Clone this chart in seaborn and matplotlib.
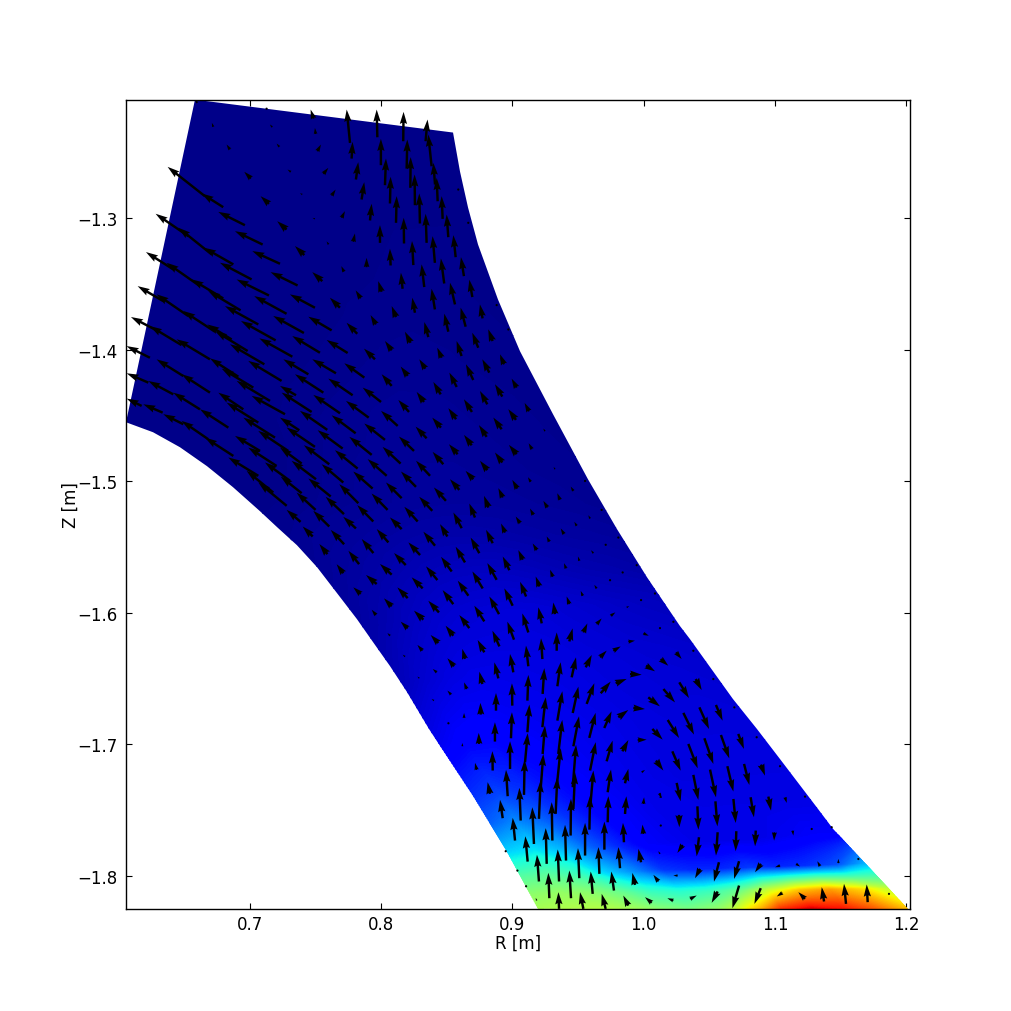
import numpy as np
import pandas as pd
import matplotlib
matplotlib.use("Agg")
import matplotlib.pyplot as plt
from matplotlib.patches import Polygon
import seaborn as sns

# Region outline, mm: one station per row of the colour table
left_R = [658.5,645.6,632.7,619.7,606.0,626.6,652.4,677.6,702.7,728.5,753.6,784.1,814.5,845.0,870.1,883.0,896.0,905.9,913.5,919.5]
left_Z = [-1210.1,-1270.8,-1331.5,-1392.2,-1455.2,-1462.8,-1477.2,-1496.2,-1515.9,-1541.7,-1569.1,-1610.0,-1654.1,-1701.1,-1739.1,-1760.3,-1781.6,-1799.8,-1813.5,-1824.9]
right_R = [855.6,860.2,870.1,886.1,905.9,921.1,936.3,951.5,966.7,982.0,997.2,1014.7,1037.5,1068.0,1103.7,1126.5,1149.4,1168.4,1187.4,1201.1]
right_Z = [-1235.1,-1264.7,-1308.7,-1359.6,-1401.3,-1433.9,-1464.3,-1490.9,-1517.5,-1540.2,-1566.8,-1589.6,-1627.6,-1670.8,-1716.3,-1742.9,-1767.9,-1790.7,-1809.7,-1824.9]

# Finer outline of the coloured region, mm
outline_R = [658.5,606.0,626.6,647.1,667.7,687.4,708.0,721.0,736.1,751.4,768.9,781.8,794.0,806.9,819.9,836.6,845.0,870.1,896.0,919.5,
             1201.1,1144.1,1132.7,1103.7,1086.2,1067.9,1035.2,1027.6,1002.5,979.7,957.6,931.0,905.9,889.1,873.9,866.3,860.2,854.9]
outline_Z = [-1210.1,-1455.2,-1462.8,-1474.2,-1488.6,-1504.5,-1522.8,-1534.9,-1548.6,-1565.3,-1588.0,-1604.8,-1622.2,-1640.4,-1660.2,-1688.2,-1701.1,-1739.1,-1781.6,-1824.9,
             -1824.9,-1764.1,-1749.0,-1711.0,-1688.2,-1665.4,-1619.9,-1610.0,-1572.9,-1536.4,-1498.5,-1449.1,-1401.3,-1361.9,-1320.1,-1292.0,-1264.7,-1235.1]

field = [
 [.008,.008,.008,.008,.008,.008,.008,.008,.008,.008,.008,.008,.008],
 [.008,.008,.008,.008,.008,.008,.008,.008,.008,.009,.009,.009,.009],
 [.008,.008,.008,.008,.008,.008,.008,.010,.010,.012,.012,.012,.010],
 [.008,.008,.008,.008,.008,.009,.010,.012,.013,.014,.014,.012,.011],
 [.008,.008,.008,.008,.010,.012,.014,.016,.018,.018,.016,.014,.012],
 [.008,.008,.008,.010,.012,.015,.018,.020,.021,.020,.018,.016,.014],
 [.008,.008,.009,.011,.014,.018,.020,.022,.022,.021,.019,.017,.015],
 [.008,.009,.011,.014,.018,.021,.023,.024,.024,.022,.020,.018,.016],
 [.010,.012,.015,.018,.021,.024,.026,.027,.027,.025,.023,.021,.018],
 [.015,.020,.024,.028,.032,.036,.038,.038,.036,.033,.030,.028,.025],
 [.020,.027,.034,.042,.050,.055,.057,.056,.052,.047,.043,.040,.036],
 [.030,.042,.056,.068,.075,.078,.080,.078,.073,.068,.062,.057,.053],
 [.050,.070,.085,.092,.092,.090,.088,.085,.080,.078,.074,.072,.068],
 [.100,.120,.125,.115,.105,.100,.095,.090,.085,.082,.080,.080,.078],
 [.170,.190,.170,.140,.120,.105,.095,.090,.085,.085,.085,.085,.085],
 [.220,.260,.220,.170,.130,.110,.095,.090,.090,.090,.090,.090,.090],
 [.330,.350,.300,.220,.160,.110,.100,.090,.090,.090,.100,.110,.110],
 [.450,.460,.420,.330,.260,.180,.160,.160,.180,.160,.170,.200,.300],
 [.520,.530,.520,.480,.420,.400,.420,.480,.600,.700,.740,.680,.580],
 [.560,.570,.580,.570,.540,.520,.560,.720,.930,.980,.930,.850,.750],
]

# Arrows: R mm, Z mm, U, V
arrows_top = [
 (660.3,-1212.6,-7,10),(672.4,-1230.8,-4,12),(685.1,-1248,-10,15),(701.1,-1270,-20,20),(714.8,-1289.3,-25,23),
 (728.2,-1308.8,-28,25),(741.7,-1328.2,-28,27),(755.4,-1348,-30,27),(768.8,-1368.2,-30,30),(782,-1388,-32,33),(795.5,-1407.4,-33,32),
 (713,-1217,-4,6),(717.3,-1231,-7,8),(722.7,-1246,-8,10),(731.5,-1265,-10,7),(740.2,-1282.2,-7,4),(749.8,-1300.7,-7,3),
 (760.2,-1320.1,-6,9),(771.9,-1340.9,-8,17),(784.6,-1361.1,-15,24),(796.2,-1380.9,-16,28),(808.2,-1400.6,-20,28),
 (748.8,-1224.5,-9,27),(750.3,-1236.2,-2,18),(751.6,-1249.3,11,20),(756.2,-1266.5,15,18),(762.5,-1283,12,18),(770.1,-1299.9,10,20),
 (779,-1318.1,5,25),(789.1,-1337.4,0,28),(800.5,-1356.1,-10,32),(811.5,-1375.3,-13,33),(822.6,-1394.8,-17,33),
 (858.9,-1278.4,-1,2),(866.5,-1303.7,-1,2),(888.1,-1366.2,-1,2),(897,-1384.7,-1,2),
]
arrows_right_fan = [
 (776.5,-1243,-10,100),(777.7,-1254.9,3,50),(781,-1270.8,7,52),(785.3,-1286,8,52),(791.7,-1301.9,5,50),(799.3,-1318.9,0,53),
 (807.4,-1336.1,-2,50),(816.5,-1353.8,-5,48),(825.9,-1372,-8,45),(836.1,-1390.5,-12,45),(846.2,-1406.2,-13,30),
 (797.3,-1238.7,-2,83),(800,-1259.9,0,79),(803.1,-1275.1,3,80),(806.9,-1289,2,80),(811.5,-1303.7,2,80),(817.6,-1319.4,-1,77),
 (824.7,-1335.8,-4,72),(833,-1352.5,-8,68),(841.1,-1369.5,-10,62),(851.3,-1386.4,-12,54),(861.4,-1404.9,-15,45),
 (817,-1241.7,1,88),(819.6,-1262.5,2,87),(822.4,-1277.1,1,92),(825.9,-1290.3,-1,92),(829.7,-1304.2,-2,90),(834.8,-1318.9,-3,87),
 (841.1,-1334.1,-7,80),(848.2,-1349.8,-10,75),(856.4,-1365.7,-15,65),(864.5,-1382.6,-15,57),(874.1,-1398.6,-18,45),
 (834,-1241.7,6,65),(838.6,-1260.7,-10,95),(841.2,-1274.6,-5,65),(843.2,-1287.3,-3,70),(847,-1300.7,-3,68),(851.3,-1314.6,-5,68),
 (856.9,-1329.8,-7,66),(863.2,-1344.2,-9,57),(869.6,-1360.1,-9,52),(877.4,-1376.3,-8,42),(885,-1393.5,-13,35),(893.7,-1411.2,-12,30),
 (912.7,-1446.9,-13,25),(915,-1475.7,-10,18),(924.9,-1462,-5,8),(932.5,-1490.9,-4,7),
]
arrows_long = [
 (666.1,-1283.5,-112,88),(680,-1291.8,-65,41),(696.5,-1305.5,-80,40),(710,-1320.2,-83,40),(723.2,-1334.8,-83,38),(736.6,-1351.3,-81,40),
 (749.8,-1368.2,-75,40),(762.5,-1385.4,-70,41),(774.7,-1402.6,-63,39),
 (653.4,-1313.8,-98,67),(671.2,-1327.7,-100,80),(687.7,-1335.3,-88,50),(701.6,-1346.7,-95,50),(714.8,-1358.9,-97,48),(728.2,-1372.8,-97,53),
 (741.4,-1387.4,-92,51),(753.6,-1402.4,-83,50),
 (642,-1339.1,-82,52),(662.3,-1351.8,-100,70),(680,-1361.1,-95,57),(693.2,-1370.2,-97,58),(706.7,-1380.9,-100,55),(719.9,-1393,-104,58),(732.6,-1405.4,-99,55),
 (634.4,-1363.2,-77,45),(653.4,-1374.5,-95,65),(673.7,-1386.4,-95,62),(686.4,-1392.3,-73,45),(698.6,-1401.1,-98,60),(711.3,-1411.2,-103,60),
 (629.3,-1385.4,-77,40),(648.3,-1396.6,-95,57),(669.9,-1407.4,-100,60),(624.2,-1406.2,-70,35),
 (691.5,-1420.6,-85,55),(702.9,-1428.9,-95,57),(724.4,-1423.8,-100,60),(715.6,-1439,-100,60),(727,-1449.1,-100,55),(695.3,-1445.4,-75,50),
 (706.7,-1455.5,-95,60),(719.4,-1466.9,-95,60),(729.5,-1477,-90,60),(708,-1477,-75,45),(720.6,-1488.4,-85,55),(730.8,-1499.7,-75,55),
 (706.7,-1495.9,-90,55),(718.1,-1508.6,-80,65),(728.3,-1518.7,-85,70),
 (623,-1425.1,-65,28),(642,-1434,-75,40),(662.3,-1445.4,-80,50),(683.9,-1459.3,-85,55),
 (617.9,-1442.8,-45,22),(633.9,-1447.9,-58,25),(649.6,-1456.7,-60,30),(668.6,-1468.1,-80,55),(687.7,-1480.8,-85,55),
 (649.6,-1420.1,-80,50),(669.9,-1432.7,-85,55),
]
arrows_middle = [
 (744.8,-1418.8,-75,45),(765.8,-1418,-71,42),(787.4,-1421.3,-60,43),(808.2,-1427.6,-30,35),(820.4,-1420,-21,28),(833.8,-1414.5,-18,28),
 (857.7,-1428.4,-22,43),(870.3,-1423.1,-22,47),(882.5,-1417.5,-21,40),(893.2,-1410.4,-10,18),
 (756.2,-1432.7,-85,55),(778.5,-1434.7,-73,50),(800.1,-1439.8,-55,43),(821.4,-1447.4,-32,36),(845.5,-1434,-22,37),(832.8,-1439.8,-22,30),
 (881,-1441.6,-22,40),(869.3,-1447.4,-24,38),(892.4,-1435.7,-22,37),(903.3,-1428.9,-15,27),
 (735.4,-1434.7,-48,28),(747.3,-1447.4,-90,58),(768.9,-1448.4,-80,55),(790.7,-1451.7,-68,50),(812.8,-1458,-50,45),(834.8,-1467.4,-33,35),
 (845.7,-1459.3,-26,30),(857.2,-1452.9,-23,33),(880.5,-1466.3,-23,35),(869.1,-1472.7,-23,31),(891.9,-1460.5,-25,35),(902.8,-1453.4,-23,32),
 (737.9,-1461.3,-58,38),(759.2,-1461,-82,57),(780.8,-1463.6,-72,54),(803.1,-1468.6,-62,49),(825.2,-1477,-45,43),(847.5,-1487.1,-32,37),
 (858.4,-1479.5,-26,30),(881,-1491.6,-22,28),(870.3,-1498.5,-23,25),(892.4,-1485.8,-22,30),(903.3,-1479.5,-23,28),
 (749.8,-1473.9,-85,58),(770.9,-1475.2,-75,55),(793,-1480,-67,54),(815,-1486.6,-54,50),(837.4,-1495.9,-42,45),(859.7,-1506.6,-28,32),
 (739.7,-1486.6,-65,48),(760.7,-1487.1,-76,57),(782.3,-1490.4,-68,55),(804.4,-1495.9,-57,50),(826.7,-1504.3,-45,46),(849.5,-1514.9,-36,40),
 (750.6,-1498.5,-73,55),(771.4,-1501,-65,55),(793.7,-1505.6,-58,51),(815.8,-1512.9,-47,47),(839.1,-1522.5,-39,42),
 (739.7,-1509.1,-63,50),(761.8,-1511.6,-67,54),(782.8,-1516.7,-57,57),(805.1,-1521.8,-48,49),(828,-1530.6,-40,44),
 (750.3,-1521.8,-57,52),(771.9,-1525,-55,52),(794.2,-1530.6,-48,49),(738.9,-1530.9,-42,36),(760.7,-1534.4,-48,47),(781,-1535.9,-38,35),(815.8,-1536.4,-35,35),
 (871.6,-1527.6,-17,42),(881.8,-1520,-13,35),(892.7,-1512.4,-13,28),(903.8,-1505.6,-15,26),(861.5,-1535.7,-25,47),
]
arrows_lower_curve = [
 (748.1,-1542,-30,30),(772,-1547.9,-40,43),(759.3,-1555.4,-24,30),(771.4,-1569.9,-20,27),
 (805.7,-1546.5,-35,40),(794.3,-1554.6,-35,42),(829.8,-1556.1,-35,38),(818.9,-1563.7,-35,36),(808.2,-1571,-35,32),(796.8,-1578.1,-32,27),
 (783.4,-1563,-32,40),(784.6,-1585.7,-22,20),(841.2,-1549,-35,42),(843,-1575.1,-34,41),(831.8,-1581.4,-33,33),(820.4,-1588.8,-31,32),
 (808.2,-1595.1,-23,24),(796.3,-1601.7,-13,16),(844.2,-1599.7,-32,35),(832.3,-1605.2,-28,27),(820.4,-1611.8,-21,20),(807,-1617.4,-8,8),
 (843.7,-1622.9,-23,24),(831.6,-1628.7,-15,17),(818.4,-1633.3,-7,6),(855.7,-1640.6,-20,24),(842.5,-1645.2,-12,10),(829.3,-1649.7,-6,5),
 (853.4,-1662.1,-11,12),(840.4,-1666.7,-7,5),(851.4,-1683.9,-5,5),
]
arrows_centre = [
 (914,-1500.5,-8,14),(955.4,-1499.8,-4,3),(850.6,-1542,-22,37),(946.5,-1507.4,-8,13),(936.3,-1514.2,-8,20),(926.7,-1520,-12,20),(916,-1525.6,-10,19),
 (905.9,-1531.9,-13,20),(894.5,-1539,-12,27),(885.1,-1547.1,-20,40),(874.9,-1554.7,-26,47),(864,-1561.7,-28,47),(853.9,-1568.6,-32,44),
 (968,-1521.8,-3,4),(959.2,-1528.4,-5,10),(949,-1533.9,-7,12),(939.4,-1540.2,-10,17),(928.2,-1546,-8,16),(918.6,-1552.4,-12,20),(907.9,-1559.7,-13,29),
 (897.8,-1567.6,-20,41),(888.1,-1574.9,-28,50),(877.5,-1581.5,-31,51),(866.6,-1587,-32,45),(855.1,-1593.4,-32,42),
 (980.7,-1542.8,-3,3),(971.1,-1548.3,-3,3),(961.7,-1554.7,-7,9),(951,-1560.5,-4,13),(940.9,-1566.3,-6,16),(930.8,-1572.6,-8,21),(920.6,-1580,-11,30),
 (910.5,-1587.6,-18,44),(900.3,-1594.6,-25,52),(889.9,-1601,-29,53),(878.7,-1606.5,-30,47),(867.3,-1611.6,-30,39),(855.1,-1617.4,-23,30),
 (994.7,-1563.8,-3,3),(984,-1569.3,-3,3),(974.4,-1575.2,-4,6),(964.2,-1581.5,-7,11),(953.6,-1587.1,-6,15),(943.4,-1593.4,-8,23),(932.5,-1601,-5,35),
 (922.4,-1608,-10,48),(912.2,-1614.9,-18,57),(901.3,-1620.4,-20,54),(890.2,-1625.5,-21,47),
 (1008.6,-1585.3,-3,3),(998,-1590.3,-3,2),(987,-1595.9,8,4),(974.9,-1602.2,14,10),(964.2,-1608.6,15,17),(954.1,-1614.9,12,27),(943.4,-1621.7,10,39),
 (1022.6,-1606.8,-3,2),(1012.4,-1611.6,-3,2),(999.8,-1615.6,16,-7),
]
arrows_jet = [
 (878.7,-1630,-20,37),(864,-1635,-8,30),(922.9,-1635.1,-4,62),(933.8,-1628.8,0,55),(900.8,-1645.2,-10,55),(912.2,-1640.6,-7,62),(889.4,-1649.8,-12,48),
 (877.2,-1654.1,-9,37),(865.3,-1657.9,-8,20),(923.1,-1661.6,5,77),(934.3,-1655.8,10,72),(945.2,-1649,13,60),(955.9,-1641.4,18,37),(966.8,-1633.8,20,20),
 (976.9,-1628.8,22,13),(988.3,-1621.9,20,3),(900,-1670.5,-1,67),(911.5,-1666.7,3,77),(887.6,-1674.3,0,53),(876,-1677.3,-1,35),(863.3,-1679.9,0,15),
 (922.9,-1686.9,10,90),(934.3,-1681.9,15,88),(946,-1676.1,17,79),(956.6,-1669.2,23,62),(967.3,-1661.1,30,35),(978.7,-1653.5,33,13),(989.6,-1646.5,35,-2),
 (899,-1695.3,3,78),(911.5,-1690.7,6,83),(886.8,-1697.8,0,58),(874.7,-1699.6,-1,33),(862,-1701.4,0,10),
 (923.1,-1707.2,7,85),(935,-1707.2,12,102),(946.5,-1701.4,17,90),(958.6,-1695,19,75),(970,-1687.5,22,50),(980.7,-1679.4,30,22),(992.1,-1672.3,35,-3),
 (898.3,-1718.6,0,83),(909.7,-1713.5,8,87),(885.1,-1719.8,-1,58),(872.9,-1719.3,-5,21),
 (908.9,-1738.3,2,106),(921.6,-1733.8,8,105),(933.8,-1732.5,12,117),(946,-1732.5,10,127),(959.2,-1719.8,17,85),(971.8,-1712.8,18,62),(983.8,-1705.2,18,34),(995.4,-1696.6,27,1),
 (896.5,-1739.3,-5,79),(883,-1737.5,-7,35),(920.3,-1756.5,5,115),(933,-1752.7,5,110),(946.5,-1749,5,110),(959.2,-1749,10,115),(972.6,-1736.3,10,68),
 (985.8,-1729.5,10,43),(998.5,-1721.1,10,7),(906.4,-1757.8,-4,98),(892.7,-1756,-8,55),
]
arrows_vortex = [
 (1024.6,-1630,17,-20),(1012.9,-1635.1,23,-20),(1001.8,-1640.1,27,-17),(1039.6,-1650.3,18,-33),(1027.1,-1652.8,29,-47),(1015,-1657.9,35,-40),(1003.5,-1664.2,35,-27),
 (1055,-1670,20,-47),(1042.4,-1671.8,29,-65),(1030.2,-1676,32,-65),(1018.3,-1681.4,34,-54),(1006.6,-1688.2,31,-32),
 (1072,-1692,17,-45),(1058.8,-1692.8,25,-70),(1046.2,-1695.3,27,-77),(1034,-1699.6,28,-73),(1021.8,-1705.2,25,-58),(1009.4,-1712.2,22,-30),
 (1089.3,-1715.3,12,-33),(1076.4,-1714.8,16,-63),(1063.7,-1716.5,18,-76),(1050.5,-1719.1,18,-83),(1037.8,-1723.1,15,-75),(1025.1,-1729.2,12,-55),(1011.9,-1737,7,-15),
 (1037.8,-1628.8,2,-2),(1053,-1650.3,2,-2),(1069,-1671.8,2,-2),(1086,-1694.5,2,-2),(1103.8,-1716.5,2,-2),(1122.8,-1739.6,2,-2),
 (1026.9,-1753.5,1,-37),(1040.9,-1747,3,-70),(1054.6,-1743.2,6,-75),(1068.3,-1741.4,7,-72),(1081.4,-1740.1,10,-60),(1094.9,-1739.6,8,-42),(1107.6,-1740.1,5,-17),
 (1127.9,-1764.2,3,1),(1143.1,-1762.9,3,1),
 (1029.7,-1776.3,-16,-24),(1042.1,-1770.5,-7,-57),(1056.3,-1766.7,-5,-70),(1070.5,-1765.9,-2,-60),(1085.3,-1765.4,-2,-47),(1099.5,-1766.7,-1,-25),(1113.4,-1765.4,2,-15),
 (1042.9,-1794.5,-15,-28),(1057.3,-1789.5,-15,-58),(1072.6,-1788.7,-15,-53),(1089.3,-1790.7,-18,-25),(1103.8,-1792,-15,-5),(1116,-1790.7,12,-8),
]
arrows_bottom = [
 (902.1,-1773,-7,68),(916.5,-1775.6,-5,110),(930.5,-1773,-2,115),(944.4,-1769.2,1,110),(958.7,-1764.7,2,102),(972.6,-1759.1,2,78),(985.8,-1752.8,4,53),(999.8,-1745.2,2,20),(1013,-1740.6,-2,12),
 (911.7,-1789,-7,76),(926.2,-1790.7,-3,107),(940.9,-1788.2,-3,107),(955.4,-1784.4,0,98),(970.1,-1779.9,0,84),(985,-1774.3,-3,58),(999.8,-1768,-3,28),(1013,-1761.6,2,2),
 (920.3,-1804.1,-6,80),(935.6,-1804.1,-4,96),(951,-1801.6,-4,90),(966.3,-1798.3,-3,80),(982,-1794,-5,63),(998,-1789.5,-8,40),(1012.4,-1783.1,-5,8),
 (928.2,-1816.8,-3,76),(944.7,-1816.8,-5,83),(961.2,-1813.5,-6,67),(977.4,-1811,-8,57),(993.4,-1806.7,-8,36),(1011.2,-1804.1,-15,20),(1025.9,-1799.6,-13,0),
 (935.6,-1824.9,-2,50),(954.1,-1824.9,-10,50),(971.1,-1824.9,-12,45),(988.3,-1822.4,-15,30),(1006.1,-1820.3,-20,17),(1022.6,-1818.6,-18,7),(1035.3,-1817.3,20,10),
 (1056.3,-1811.7,-18,-34),(1072.6,-1807.2,-20,-68),(1089.1,-1809.2,-19,-47),(1105.6,-1812.7,-17,-11),(1122.8,-1817.3,-20,20),(1137.3,-1819.3,-7,43),
 (1154,-1821.1,-6,60),(1170.5,-1819.8,-3,53),(1186.7,-1813.5,0,4),(1134.2,-1792.5,-8,15),(1148.2,-1790.2,0,13),(1163.4,-1787,0,3),
 (918.6,-1818.6,-3,8),(910.5,-1807.7,-3,6),(903.9,-1795.8,-3,5),(895,-1781.1,-2,5),
]

x_ticks = [0.7, 0.8, 0.9, 1.0, 1.1, 1.2]
y_ticks = [-1.3, -1.4, -1.5, -1.6, -1.7, -1.8]
x_label = "R [m]"
y_label = "Z [m]"

sns.set_theme(style="white", rc={
    "axes.edgecolor": "black", "axes.linewidth": 1.0, "text.color": "black",
    "axes.labelcolor": "black", "xtick.color": "black", "ytick.color": "black",
})
plt.rcParams["font.family"] = ["DejaVu Sans"]

fig = plt.figure(figsize=(10.12, 10.12), dpi=100, facecolor="white")
ax = fig.add_axes([126 / 1012, (1012 - 910) / 1012, 784 / 1012, 809.5 / 1012])

# The mesh runs a little past the outline on every side; the outline clips it.
across = np.concatenate([[-0.1], np.linspace(0, 1, len(field[0])), [1.1]])[None, :]
lr, lz = np.array(left_R)[:, None] / 1000, np.array(left_Z)[:, None] / 1000
rr, rz = np.array(right_R)[:, None] / 1000, np.array(right_Z)[:, None] / 1000
mesh_R = lr + (rr - lr) * across
mesh_Z = lz + (rz - lz) * across
mesh_Z[0] += 0.004
mesh_Z[-1] -= 0.004
values = np.pad(np.array(field), ((0, 0), (1, 1)), mode="edge")

filled = ax.contourf(mesh_R, mesh_Z, values, levels=np.linspace(0, 1, 257),
                     cmap="jet", vmin=0, vmax=1, antialiased=False)
region = Polygon(np.column_stack([outline_R, outline_Z]) / 1000, closed=True,
                 transform=ax.transData, facecolor="none", edgecolor="none")
ax.add_patch(region)
filled.set_clip_path(region)

arrows = pd.DataFrame(
    arrows_top + arrows_right_fan + arrows_long + arrows_middle + arrows_lower_curve
    + arrows_centre + arrows_jet + arrows_vortex + arrows_bottom,
    columns=["R", "Z", "U", "V"])
ax.quiver(arrows["R"] / 1000, arrows["Z"] / 1000, arrows["U"], arrows["V"],
          angles="xy", scale_units="xy", scale=3942, units="width", width=0.0031,
          color="black", zorder=3)

ax.set_xlim(0.606, 1.2027)
ax.set_ylim(-1.825, -1.21)
ax.set_xticks(x_ticks)
ax.set_yticks(y_ticks)
ax.tick_params(direction="in", length=4, width=0.8, top=True, right=True, bottom=True, left=True, labelsize=12)
ax.tick_params(axis="x", pad=4)
ax.tick_params(axis="y", pad=6)
ax.set_xlabel(x_label, fontsize=12, labelpad=0.6)
ax.set_ylabel(y_label, fontsize=12, labelpad=-2)

fig.savefig("out.png", dpi=100, facecolor="white")
